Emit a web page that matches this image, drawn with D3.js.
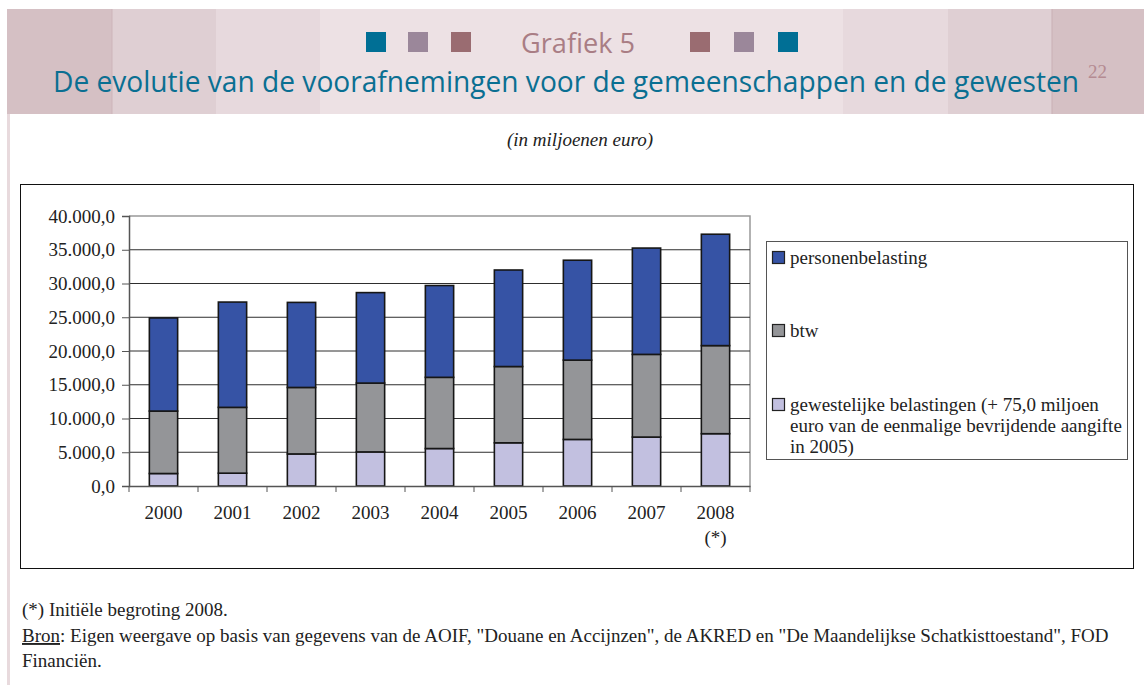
<!DOCTYPE html>
<html>
<head>
<meta charset="utf-8">
<script src="https://cdn.jsdelivr.net/npm/d3@7"></script>
<style>
	body { margin: 0; background: #fff; }
	svg { display: block; }
</style>
</head>
<body>
<svg id="chart" width="1144" height="685"></svg>
<script>
// data (miljoenen euro)
var years = ['2000', '2001', '2002', '2003', '2004', '2005', '2006', '2007', '2008'];
var gewestelijk = [1850, 1900, 4750, 5050, 5550, 6400, 6900, 7250, 7750];
var btw = [9250, 9750, 9850, 10200, 10550, 11300, 11750, 12250, 13050];
var personen = [13800, 15600, 12600, 13400, 13600, 14300, 14800, 15750, 16500];
var yTicks = [0, 5000, 10000, 15000, 20000, 25000, 30000, 35000, 40000];

var seriesKeys = ['gewestelijk', 'btw', 'personen'];
var seriesColors = { gewestelijk: '#c2c0e0', btw: '#949598', personen: '#3653a5' };
var legendItems = [
	{ key: 'personen', lines: ['personenbelasting'] },
	{ key: 'btw', lines: ['btw'] },
	{ key: 'gewestelijk', lines: ['gewestelijke belastingen (+ 75,0 miljoen', 'euro van de eenmalige bevrijdende aangifte', 'in 2005)'] }
];

var svg = d3.select('#chart');
var serif = '"Liberation Serif", "Times New Roman", serif';
var sans = '"Open Sans", "Noto Sans", sans-serif';

var nl = d3.formatLocale({ decimal: ',', thousands: '.', grouping: [3], currency: ['', ' €'] });
var fmt = nl.format(',.1f');

drawHeader = function(){
	// pink stripes of the page header
	var stripes = [
		[7, 112, '#d5c0c4'], [112, 216, '#dfcfd3'], [216, 320, '#e7d9dd'], [320, 843, '#ede1e4'],
		[843, 948, '#e7d9dd'], [948, 1052, '#dfcfd3'], [1052, 1144, '#d5c0c4']
	];
	svg.append('g')
		.selectAll('rect')
		.data(stripes)
		.enter()
		.append('rect')
		.attr('x', function(d) { return d[0]; })
		.attr('y', 9)
		.attr('width', function(d) { return d[1] - d[0]; })
		.attr('height', 105)
		.attr('fill', function(d) { return d[2]; });
	svg.append('line')
		.attr('x1', 112).attr('x2', 112).attr('y1', 9).attr('y2', 114)
		.attr('stroke', '#cdb5ba');
	svg.append('line')
		.attr('x1', 1052).attr('x2', 1052).attr('y1', 9).attr('y2', 114)
		.attr('stroke', '#c9afb4');
	// left margin line
	svg.append('rect')
		.attr('x', 7).attr('y', 114).attr('width', 3).attr('height', 571)
		.attr('fill', '#e8dadd');

	var squares = [[366, '#006f95'], [408, '#9b879a'], [451, '#9a6c71'], [690, '#9a6c71'], [734, '#9b879a'], [778, '#006f95']];
	svg.append('g')
		.selectAll('rect')
		.data(squares)
		.enter()
		.append('rect')
		.attr('x', function(d) { return d[0]; })
		.attr('y', 32)
		.attr('width', 20)
		.attr('height', 20)
		.attr('fill', function(d) { return d[1]; });

	svg.append('text')
		.attr('x', 521).attr('y', 53)
		.attr('textLength', 114).attr('lengthAdjust', 'spacingAndGlyphs')
		.style('font-family', sans).style('font-size', '27px')
		.attr('fill', '#a97d84')
		.text('Grafiek 5');
	svg.append('text')
		.attr('x', 53).attr('y', 91.5)
		.attr('textLength', 1026).attr('lengthAdjust', 'spacingAndGlyphs')
		.style('font-family', sans).style('font-size', '30px')
		.attr('fill', '#0a6f92')
		.text('De evolutie van de voorafnemingen voor de gemeenschappen en de gewesten');
	svg.append('text')
		.attr('x', 1088).attr('y', 78)
		.style('font-family', serif).style('font-size', '19px')
		.attr('fill', '#b48b92')
		.text('22');

	svg.append('text')
		.attr('x', 580).attr('y', 146)
		.attr('text-anchor', 'middle')
		.style('font-family', serif).style('font-size', '19px').style('font-style', 'italic')
		.attr('fill', '#222')
		.text('(in miljoenen euro)');
};

drawChart = function(){
	// outer frame
	svg.append('rect')
		.attr('x', 20.5).attr('y', 184.5).attr('width', 1113).attr('height', 384)
		.attr('fill', '#fff').attr('stroke', '#111').attr('stroke-width', 1);

	var x = d3.scaleBand().domain(years).range([129, 750]).paddingInner(0.59).paddingOuter(0.295);
	var y = d3.scaleLinear().domain([0, 40000]).range([486, 216]);

	// plot area border (top and right)
	svg.append('path')
		.attr('d', 'M' + x.range()[0] + ',' + y(40000) + 'H' + x.range()[1] + 'V' + y(0))
		.attr('fill', 'none').attr('stroke', '#999').attr('stroke-width', 1.5);

	// gridlines
	svg.append('g')
		.selectAll('line')
		.data(yTicks.filter(function(d) { return d > 0 && d < 40000; }))
		.enter()
		.append('line')
		.attr('x1', x.range()[0]).attr('x2', x.range()[1])
		.attr('y1', function(d) { return y(d); })
		.attr('y2', function(d) { return y(d); })
		.attr('stroke', '#2e2e2e').attr('stroke-width', 1);

	var table = years.map(function(yr, i) {
		return { year: yr, gewestelijk: gewestelijk[i], btw: btw[i], personen: personen[i] };
	});
	var stacked = d3.stack().keys(seriesKeys)(table);

	svg.append('g')
		.selectAll('g')
		.data(stacked)
		.enter()
		.append('g')
		.attr('fill', function(d) { return seriesColors[d.key]; })
		.selectAll('rect')
		.data(function(d) { return d; })
		.enter()
		.append('rect')
		.attr('x', function(d) { return x(d.data.year); })
		.attr('y', function(d) { return y(d[1]); })
		.attr('width', x.bandwidth())
		.attr('height', function(d) { return y(d[0]) - y(d[1]); })
		.attr('stroke', '#161616').attr('stroke-width', 1.6);

	// y axis
	var yAxis = svg.append('g')
		.attr('transform', 'translate(' + x.range()[0] + ',0)')
		.call(d3.axisLeft(y).tickValues(yTicks).tickFormat(fmt).tickSize(7).tickPadding(7));
	yAxis.select('.domain').attr('stroke', '#555').attr('stroke-width', 1.5);
	yAxis.selectAll('.tick line').attr('stroke', '#555');
	yAxis.selectAll('text')
		.style('font-family', serif).style('font-size', '19px').attr('fill', '#222');

	// x axis, ticks between categories
	var xAxis = svg.append('g')
		.attr('transform', 'translate(0,' + y(0) + ')')
		.call(d3.axisBottom(x).tickSize(0).tickPadding(20));
	xAxis.select('.domain').attr('stroke', '#555').attr('stroke-width', 1.5);
	xAxis.selectAll('text')
		.style('font-family', serif).style('font-size', '19px').attr('fill', '#222');
	xAxis.selectAll('.tick')
		.filter(function(d) { return d == '2008'; })
		.append('text')
		.attr('y', 45).attr('dy', '0.71em')
		.attr('fill', '#222')
		.style('font-family', serif).style('font-size', '19px')
		.text('(*)');
	xAxis.append('g')
		.selectAll('line')
		.data(d3.range(years.length + 1))
		.enter()
		.append('line')
		.attr('x1', function(i) { return x.range()[0] + i * x.step(); })
		.attr('x2', function(i) { return x.range()[0] + i * x.step(); })
		.attr('y1', 0).attr('y2', 6)
		.attr('stroke', '#555');

	drawLegend();
};

drawLegend = function(){
	var lg = svg.append('g');
	lg.append('rect')
		.attr('x', 766.5).attr('y', 241.5).attr('width', 361).attr('height', 218)
		.attr('fill', '#fff').attr('stroke', '#555').attr('stroke-width', 1);
	var rowY = [258, 331, 405];
	var item = lg.selectAll('g.item')
		.data(legendItems)
		.enter()
		.append('g')
		.attr('class', 'item')
		.attr('transform', function(d, i) { return 'translate(772,' + rowY[i] + ')'; });
	item.append('rect')
		.attr('x', 0.5).attr('y', -6.5).attr('width', 12).attr('height', 12)
		.attr('fill', function(d) { return seriesColors[d.key]; })
		.attr('stroke', '#222').attr('stroke-width', 1.2);
	item.append('text')
		.style('font-family', serif).style('font-size', '19px')
		.attr('fill', '#222')
		.selectAll('tspan')
		.data(function(d) { return d.lines; })
		.enter()
		.append('tspan')
		.attr('x', 18)
		.attr('y', function(d, i) { return 6 + i * 21; })
		.text(function(d) { return d; });
};

drawFooter = function(){
	var ft = svg.append('g')
		.style('font-family', serif).style('font-size', '19px')
		.attr('fill', '#222');
	ft.append('text').attr('x', 22).attr('y', 616).text('(*) Initiële begroting 2008.');
	var bron = ft.append('text').attr('x', 22).attr('y', 642);
	bron.append('tspan').style('text-decoration', 'underline').text('Bron');
	bron.append('tspan').text(': Eigen weergave op basis van gegevens van de AOIF, "Douane en Accijnzen", de AKRED en "De Maandelijkse Schatkisttoestand", FOD');
	ft.append('text').attr('x', 22).attr('y', 667).text('Financiën.');
};

drawHeader();
drawChart();
drawFooter();
</script>
</body>
</html>
